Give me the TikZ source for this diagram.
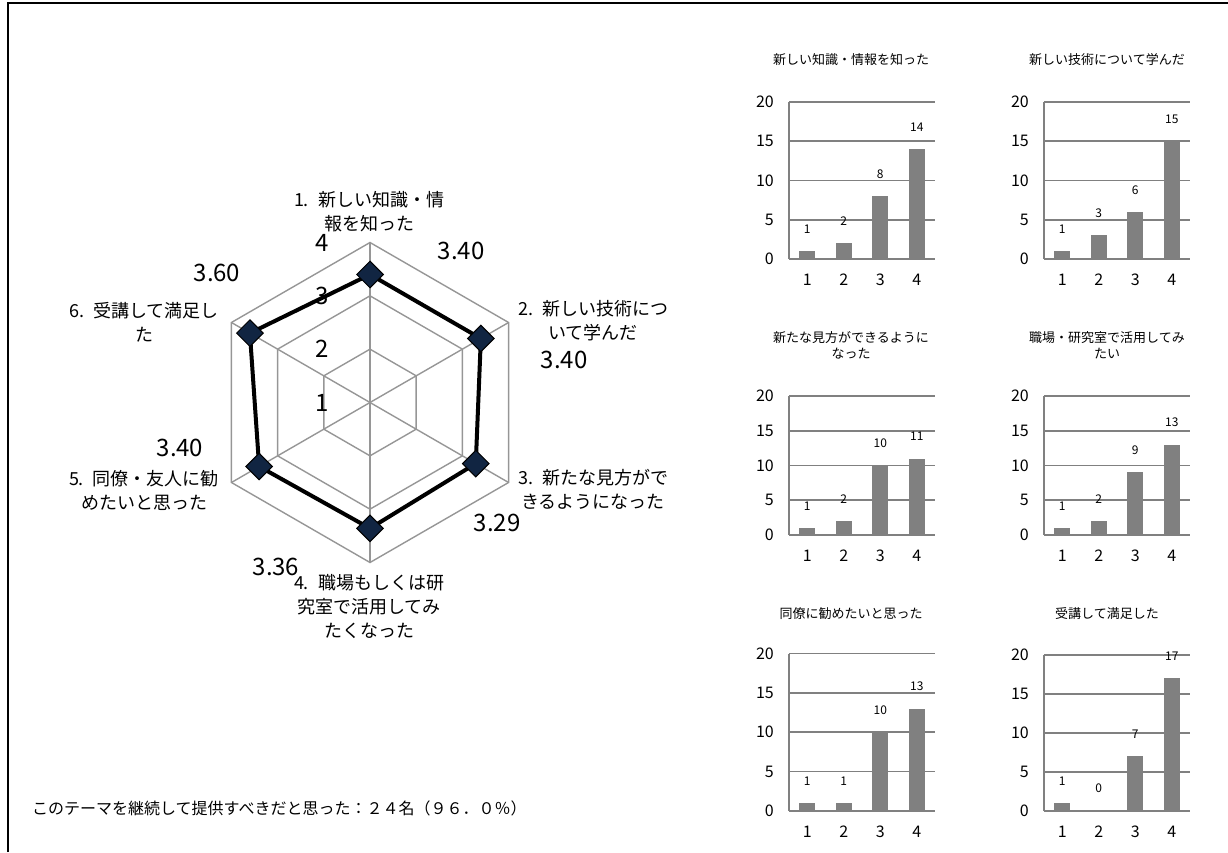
\documentclass[tikz,border=0pt]{standalone}
\usepackage{fontspec}
\setmainfont{Noto Sans CJK JP}
\usetikzlibrary{shapes.geometric, positioning}

\definecolor{navy}{RGB}{17,37,66}
\definecolor{gridgray}{RGB}{150,150,150}
\definecolor{bargray}{RGB}{128,128,128}

\begin{document}
\begin{tikzpicture}[x=1pt, y=1pt,
    gridline/.style={draw=gridgray, line width=1.4pt},
    dataline/.style={draw=black, line width=4pt, line join=miter},
    datapt/.style={diamond, draw=black, fill=navy, line width=1pt, inner sep=0pt, minimum width=27pt, minimum height=27pt},
    catlbl/.style={align=center, inner sep=0pt, font=\fontsize{18}{24}\selectfont},
    vallbl/.style={inner sep=0pt, font=\fontsize{24}{26}\selectfont},
    barline/.style={draw=bargray, line width=1.7pt},
    ticklbl/.style={inner sep=0pt, font=\fontsize{16}{18}\selectfont},
    numlbl/.style={inner sep=0pt, font=\fontsize{12}{14}\selectfont},
    titlelbl/.style={align=center, inner sep=0pt, font=\fontsize{13}{16}\selectfont}]
\useasboundingbox (0,0) rectangle (1228,852);

% Frame
\draw[line width=1.5pt] (8,0) -- (8,849) -- (1228,849);

% Radar chart
\begin{scope}[shift={(370,449.5)}]
\foreach \k in {1,2,3} {
    \pgfmathsetmacro\rr{\k*53.333}
    \draw[gridline] (90:\rr) -- (30:\rr) -- (-30:\rr) -- (-90:\rr) -- (-150:\rr) -- (150:\rr) -- cycle;
}
\foreach \a in {90,30,-30,-90,-150,150}
    \draw[gridline] (0,0) -- (\a:160);

% Axis values
\foreach \v in {1,...,4}
    \node[vallbl] (ax\v) at (-48,{(\v-1)*53.333}) {\v};

% Averages
\foreach \i/\v in {1/3.40,2/3.40,3/3.29,4/3.36,5/3.40,6/3.60} {
    \pgfmathsetmacro\a{150-60*\i}
    \pgfmathsetmacro\r{(\v-1)*53.333}
    \coordinate (p\i) at (\a:\r);
}
\draw[dataline] (p1) -- (p2) -- (p3) -- (p4) -- (p5) -- (p6) -- cycle;
\foreach \i in {1,...,6}
    \node[datapt] (d\i) at (p\i) {};
\end{scope}

% Item labels
\node[catlbl] (item1) at (369,640.5) {1.\enspace 新しい知識・情\\報を知った};
\node[catlbl] (item2) at (593,531.5) {2.\enspace 新しい技術につ\\いて学んだ};
\node[catlbl] (item3) at (593,363) {3.\enspace 新たな見方がで\\きるようになった};
\node[catlbl] (item4) at (369,245.3) {4.\enspace 職場もしくは研\\究室で活用してみ\\たくなった};
\node[catlbl] (item5) at (144,362) {5.\enspace 同僚・友人に勧\\めたいと思った};
\node[catlbl] (item6) at (144,529.5) {6.\enspace 受講して満足し\\た};

% Average labels
\node[vallbl] (avg1) at (461,601) {3.40};
\node[vallbl] (avg2) at (564,492) {3.40};
\node[vallbl] (avg3) at (497,329) {3.29};
\node[vallbl] (avg4) at (276,285) {3.36};
\node[vallbl] (avg5) at (180,404) {3.40};
\node[vallbl] (avg6) at (217,579) {3.60};

% Bar charts
\foreach \ax/\zy/\u/\va/\vb/\vc/\vd [count=\n] in {789/593/7.86/1/2/8/14, 1044/593/7.86/1/3/6/15, 789/317/6.95/1/2/10/11, 1044/317/6.95/1/2/9/13, 789/41.3/7.86/1/1/10/13, 1044/41.3/7.8/1/0/7/17} {
    \foreach \k in {0,...,4} {
        \pgfmathsetmacro\gy{\zy+\k*5*\u}
        \pgfmathtruncatemacro\t{5*\k}
        \draw[barline] (\ax,\gy) -- ++(146,0);
        \node[ticklbl, anchor=east] (c\n-t\k) at (\ax-15,\gy) {\t};
    }
    \draw[barline] (\ax,\zy) -- (\ax,\zy+20*\u);
    \foreach \i/\v in {1/\va,2/\vb,3/\vc,4/\vd} {
        \pgfmathsetmacro\bx{\ax+(\i-0.5)*36.5}
        \pgfmathsetmacro\bt{\zy+\v*\u}
        \fill[bargray] (\bx-8,\zy) rectangle (\bx+8,\bt);
        \node[numlbl] (c\n-v\i) at (\bx,\bt+22) {\v};
        \node[ticklbl] (c\n-x\i) at (\bx,\zy-21) {\i};
    }
}
\node[titlelbl] (title1) at (851,792) {新しい知識・情報を知った};
\node[titlelbl] (title2) at (1107,792) {新しい技術について学んだ};
\node[titlelbl] (title3) at (851,507) {新たな見方ができるように\\なった};
\node[titlelbl] (title4) at (1107,507) {職場・研究室で活用してみ\\たい};
\node[titlelbl] (title5) at (851,238) {同僚に勧めたいと思った};
\node[titlelbl] (title6) at (1107,238) {受講して満足した};

% Summary
\node[anchor=west, inner sep=0pt, font=\fontsize{16}{18}\selectfont] (summary) at (32,44) {このテーマを継続して提供すべきだと思った：２４名（９６．０％）};
\end{tikzpicture}
\end{document}
